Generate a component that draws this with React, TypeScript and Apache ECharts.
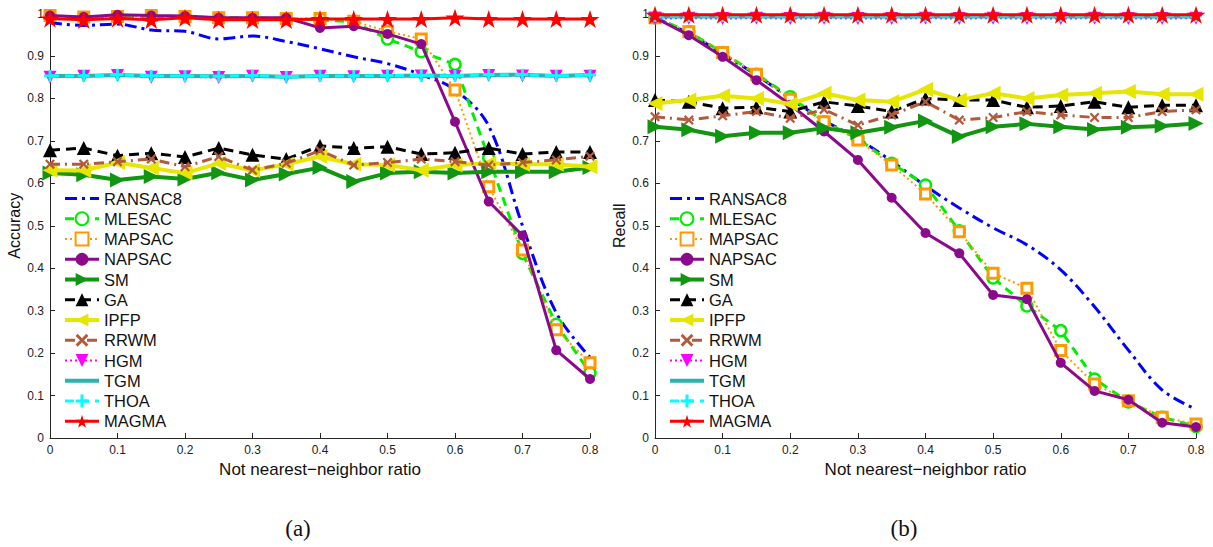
import React, { useEffect, useRef } from "react";
import * as echarts from "echarts";

// ---- data ----
const X_VALUES = [0, 0.05, 0.1, 0.15, 0.2, 0.25, 0.3, 0.35, 0.4, 0.45, 0.5, 0.55, 0.6, 0.65, 0.7, 0.75, 0.8];
const X_TICKS = ["0", "0.1", "0.2", "0.3", "0.4", "0.5", "0.6", "0.7", "0.8"];
const Y_TICKS = ["0", "0.1", "0.2", "0.3", "0.4", "0.5", "0.6", "0.7", "0.8", "0.9", "1"];
const METHODS = ["RANSAC8", "MLESAC", "MAPSAC", "NAPSAC", "SM", "GA", "IPFP", "RRWM", "HGM", "TGM", "THOA", "MAGMA"];

// Accuracy (panel a)
const RANSAC8_ACC = [0.978, 0.972, 0.975, 0.961, 0.958, 0.940, 0.947, 0.934, 0.917, 0.898, 0.882, 0.856, 0.820, 0.735, 0.500, 0.295, 0.190];
const MLESAC_ACC = [0.992, 0.990, 0.992, 0.993, 0.992, 0.990, 0.990, 0.988, 0.985, 0.980, 0.940, 0.910, 0.880, 0.660, 0.435, 0.268, 0.154];
const MAPSAC_ACC = [0.995, 0.992, 0.993, 0.995, 0.993, 0.990, 0.990, 0.988, 0.988, 0.982, 0.958, 0.940, 0.820, 0.592, 0.443, 0.255, 0.177];
const NAPSAC_ACC = [0.995, 0.992, 0.997, 0.995, 0.994, 0.990, 0.990, 0.990, 0.966, 0.970, 0.952, 0.928, 0.745, 0.557, 0.477, 0.207, 0.139];
const SM_ACC = [0.624, 0.620, 0.608, 0.616, 0.610, 0.625, 0.608, 0.622, 0.637, 0.604, 0.624, 0.627, 0.624, 0.627, 0.627, 0.627, 0.637];
const GA_ACC = [0.678, 0.683, 0.665, 0.671, 0.662, 0.683, 0.667, 0.657, 0.688, 0.683, 0.686, 0.669, 0.672, 0.683, 0.669, 0.674, 0.674];
const IPFP_ACC = [0.631, 0.630, 0.649, 0.636, 0.624, 0.647, 0.630, 0.645, 0.663, 0.645, 0.643, 0.631, 0.643, 0.647, 0.645, 0.645, 0.639];
const RRWM_ACC = [0.645, 0.645, 0.651, 0.657, 0.639, 0.663, 0.631, 0.647, 0.677, 0.643, 0.649, 0.657, 0.651, 0.643, 0.649, 0.655, 0.664];
const HGM_ACC = [0.850, 0.852, 0.854, 0.850, 0.851, 0.849, 0.852, 0.849, 0.852, 0.851, 0.852, 0.853, 0.852, 0.854, 0.853, 0.852, 0.852];
const TGM_ACC = [0.853, 0.853, 0.855, 0.853, 0.853, 0.852, 0.853, 0.851, 0.853, 0.853, 0.853, 0.854, 0.853, 0.855, 0.856, 0.853, 0.855];
const THOA_ACC = [0.853, 0.853, 0.856, 0.853, 0.853, 0.852, 0.854, 0.851, 0.853, 0.853, 0.854, 0.854, 0.853, 0.856, 0.856, 0.853, 0.855];
const MAGMA_ACC = [0.988, 0.985, 0.988, 0.985, 0.990, 0.985, 0.985, 0.985, 0.987, 0.987, 0.987, 0.987, 0.990, 0.987, 0.987, 0.987, 0.987];

// Recall (panel b)
const RANSAC8_REC = [0.990, 0.953, 0.905, 0.855, 0.800, 0.748, 0.705, 0.652, 0.594, 0.542, 0.495, 0.455, 0.396, 0.309, 0.207, 0.113, 0.068];
const MLESAC_REC = [0.990, 0.957, 0.908, 0.857, 0.804, 0.745, 0.705, 0.647, 0.596, 0.488, 0.377, 0.311, 0.253, 0.139, 0.085, 0.049, 0.027];
const MAPSAC_REC = [0.990, 0.957, 0.908, 0.857, 0.798, 0.745, 0.702, 0.643, 0.575, 0.486, 0.388, 0.353, 0.206, 0.127, 0.088, 0.049, 0.033];
const NAPSAC_REC = [0.990, 0.949, 0.898, 0.843, 0.785, 0.722, 0.655, 0.566, 0.483, 0.435, 0.337, 0.327, 0.177, 0.111, 0.090, 0.036, 0.026];
const SM_REC = [0.733, 0.726, 0.711, 0.719, 0.719, 0.730, 0.719, 0.732, 0.747, 0.710, 0.733, 0.740, 0.733, 0.727, 0.732, 0.735, 0.741];
const GA_REC = [0.796, 0.792, 0.777, 0.779, 0.769, 0.792, 0.782, 0.769, 0.800, 0.796, 0.796, 0.779, 0.782, 0.792, 0.779, 0.784, 0.784];
const IPFP_REC = [0.788, 0.796, 0.806, 0.800, 0.787, 0.812, 0.796, 0.792, 0.821, 0.796, 0.812, 0.800, 0.808, 0.812, 0.816, 0.810, 0.810];
const RRWM_REC = [0.757, 0.749, 0.759, 0.769, 0.753, 0.774, 0.737, 0.761, 0.792, 0.749, 0.755, 0.769, 0.761, 0.755, 0.755, 0.769, 0.773];
const HGM_REC = [0.988, 0.989, 0.988, 0.989, 0.988, 0.989, 0.988, 0.988, 0.989, 0.988, 0.989, 0.988, 0.988, 0.989, 0.988, 0.988, 0.989];
const TGM_REC = [0.993, 0.993, 0.993, 0.993, 0.993, 0.993, 0.993, 0.993, 0.993, 0.993, 0.993, 0.993, 0.993, 0.993, 0.993, 0.993, 0.993];
const THOA_REC = [0.994, 0.994, 0.994, 0.994, 0.994, 0.994, 0.994, 0.994, 0.994, 0.994, 0.994, 0.994, 0.994, 0.994, 0.994, 0.994, 0.994];
const MAGMA_REC = [0.997, 0.997, 0.997, 0.997, 0.997, 0.997, 0.997, 0.997, 0.997, 0.997, 0.997, 0.997, 0.997, 0.997, 0.997, 0.997, 0.997];

const ACCURACY = [RANSAC8_ACC, MLESAC_ACC, MAPSAC_ACC, NAPSAC_ACC, SM_ACC, GA_ACC, IPFP_ACC, RRWM_ACC, HGM_ACC, TGM_ACC, THOA_ACC, MAGMA_ACC];
const RECALL = [RANSAC8_REC, MLESAC_REC, MAPSAC_REC, NAPSAC_REC, SM_REC, GA_REC, IPFP_REC, RRWM_REC, HGM_REC, TGM_REC, THOA_REC, MAGMA_REC];

// ---- styles ----
const STAR = "path://M100,0 L122.45,69.1 L195.1,69.1 L136.3,111.8 L158.8,180.9 L100,138.2 L41.2,180.9 L63.7,111.8 L4.9,69.1 L77.55,69.1 Z";
const PLUS = "path://M38,0 H62 V38 H100 V62 H62 V100 H38 V62 H0 V38 H38 Z";
const CROSS = "path://M0,16 L16,0 L50,34 L84,0 L100,16 L66,50 L100,84 L84,100 L50,66 L16,100 L0,84 L34,50 Z";

type Sty = { color: string; type: any; width: number; symbol: string; size: number; rotate?: number; hollow?: boolean; border?: number; smooth?: number; noMarker?: boolean };
const STYLES: Sty[] = [
  { color: "#0000ff", type: [12, 5, 3, 5], width: 3, symbol: "circle", size: 0, smooth: 0.35, noMarker: true },
  { color: "#00ee00", type: [9, 6], width: 3, symbol: "circle", size: 11, hollow: true, border: 2.5 },
  { color: "#ff9900", type: [2, 3], width: 2, symbol: "rect", size: 10, hollow: true, border: 3 },
  { color: "#8b0a8b", type: "solid", width: 3, symbol: "circle", size: 10 },
  { color: "#129612", type: "solid", width: 4, symbol: "triangle", size: 15, rotate: -90 },
  { color: "#000000", type: [10, 6], width: 3, symbol: "triangle", size: 14 },
  { color: "#e6e600", type: "solid", width: 4, symbol: "triangle", size: 15, rotate: 90 },
  { color: "#b25a3c", type: [10, 5, 2, 5], width: 3, symbol: CROSS, size: 10 },
  { color: "#ff00ff", type: [2, 3], width: 2, symbol: "triangle", size: 13, rotate: 180 },
  { color: "#2ab3b3", type: "solid", width: 4, symbol: "circle", size: 0, noMarker: true },
  { color: "#00ffff", type: [9, 6], width: 3, symbol: PLUS, size: 12 },
  { color: "#ff0000", type: "solid", width: 3, symbol: STAR, size: 19 },
];

const FONT = "'Liberation Sans', Arial, Helvetica, sans-serif";

function makeSeries(values: number[][], axisIndex: number) {
  return METHODS.map((name, k) => {
    const s = STYLES[k];
    return {
      type: "line",
      name,
      xAxisIndex: axisIndex,
      yAxisIndex: axisIndex,
      data: X_VALUES.map((x, i) => [x, values[k][i]]),
      clip: false,
      smooth: s.smooth || false,
      symbol: s.symbol,
      symbolSize: s.size,
      symbolRotate: s.rotate || 0,
      symbolKeepAspect: true,
      showSymbol: !s.noMarker,
      lineStyle: { color: s.color, width: s.width, type: s.type },
      itemStyle: s.noMarker
        ? { color: "rgba(0,0,0,0)", borderWidth: 0 }
        : s.hollow
        ? { color: "#ffffff", borderColor: s.color, borderWidth: s.border }
        : { color: s.color, borderWidth: 0 },
      emphasis: { disabled: true },
      z: 2 + k,
    };
  });
}

function makeAxes(i: number, yName: string) {
  const common = {
    gridIndex: i,
    type: "value",
    axisLine: { show: true, lineStyle: { color: "#262626", width: 1 } },
    axisTick: { show: true, inside: true, length: 5, lineStyle: { color: "#262626" } },
    splitLine: { show: false },
  };
  const x = {
    ...common,
    min: 0,
    max: 0.8,
    interval: 0.1,
    name: "Not nearest\u2212neighbor ratio",
    nameLocation: "middle",
    nameGap: 21,
    nameTextStyle: { fontFamily: FONT, fontSize: 17, color: "#111", verticalAlign: "top" },
    axisLabel: {
      fontFamily: FONT,
      fontSize: 12,
      color: "#222",
      margin: 6,
      formatter: (v: number) => X_TICKS[Math.round(v * 10)],
    },
  };
  const y = {
    ...common,
    min: 0,
    max: 1,
    interval: 0.1,
    name: yName,
    nameLocation: "middle",
    nameGap: 28,
    nameTextStyle: { fontFamily: FONT, fontSize: 16, color: "#111" },
    axisLabel: {
      fontFamily: FONT,
      fontSize: 12,
      color: "#222",
      margin: 6,
      formatter: (v: number) => Y_TICKS[Math.round(v * 10)],
    },
  };
  return { x, y };
}

export default function App() {
  const ref = useRef<HTMLDivElement>(null);
  useEffect(() => {
    if (!ref.current) return;
    const chart = echarts.init(ref.current, null, { renderer: "svg" });
    const a = makeAxes(0, "Accuracy");
    const b = makeAxes(1, "Recall");
    const legendBase = {
      orient: "vertical",
      top: 190,
      padding: 0,
      itemWidth: 34,
      itemHeight: 16,
      itemGap: 3.25,
      selectedMode: false,
      lineStyle: { width: "inherit" },
      textStyle: { fontFamily: FONT, fontSize: 16.5, color: "#111" },
      data: METHODS,
    };
    const capFont = "23px 'Liberation Serif', 'Times New Roman', serif";
    chart.setOption({
      animation: false,
      backgroundColor: "#ffffff",
      grid: [
        { left: 50, top: 13.5, width: 540, height: 424.5 },
        { left: 655, top: 13.5, width: 541, height: 424.5 },
      ],
      xAxis: [a.x, b.x],
      yAxis: [a.y, b.y],
      legend: [
        { ...legendBase, left: 63 },
        { ...legendBase, left: 668 },
      ],
      series: [...makeSeries(ACCURACY, 0), ...makeSeries(RECALL, 1)],
      graphic: [
        { type: "text", x: 298, y: 528, style: { text: "(a)", font: capFont, fill: "#111", textAlign: "center", textVerticalAlign: "middle" } },
        { type: "text", x: 904, y: 528, style: { text: "(b)", font: capFont, fill: "#111", textAlign: "center", textVerticalAlign: "middle" } },
      ],
    });
    return () => chart.dispose();
  }, []);
  return <div ref={ref} style={{ position: "absolute", left: 0, top: 0, width: 1213, height: 547 }} />;
}
